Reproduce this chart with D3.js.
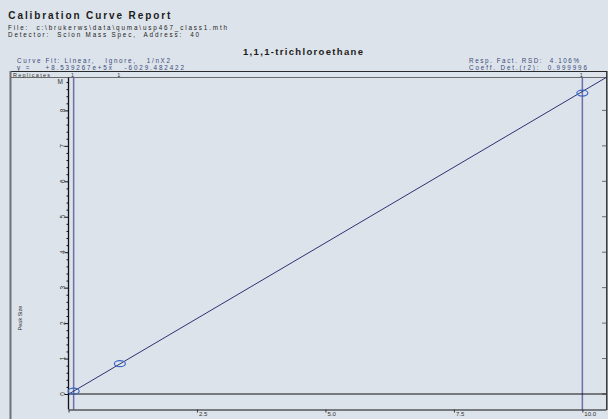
<!DOCTYPE html>
<html><head><meta charset="utf-8">
<script src="https://cdn.jsdelivr.net/npm/d3@7"></script>
<style>
html,body{margin:0;padding:0;background:#dbe2e9;}
svg{display:block;font-family:"Liberation Sans",Arial,sans-serif;}
svg text{white-space:pre;}
</style></head>
<body>
<script>
// ---- data ----
const concentrations = [0.1, 1, 10];
const peakSizes = [79000, 855000, 8490000];
const replicates = [1, 1, 1];
const rangeLimits = [0.1, 10];
const fitSlope = 853926.7;
const fitIntercept = -6029.482422;
const xTickValues = [0, 2.5, 5, 7.5, 10];
const xTickLabels = ["", "2.5", "5.0", "7.5", "10.0"];
const yMajorValues = [0, 1e6, 2e6, 3e6, 4e6, 5e6, 6e6, 7e6, 8e6];
const yTickLabels = ["0", "1", "2", "3", "4", "5", "6", "7", "8"];

const W = 608, H = 419;
const svg = d3.select("body").append("svg").attr("width", W).attr("height", H);
svg.append("rect").attr("width", W).attr("height", H).attr("fill", "#dce3ea");

const x = d3.scaleLinear().domain([0, 10.46]).range([68.5, 606]);
const y = d3.scaleLinear().domain([0, 8.9e6]).range([394, 78.5]);

// ---- header texts ----
function txt(s, px, py, size, opts = {}) {
  const t = svg.append("text").attr("x", px).attr("y", py).attr("font-size", size)
    .attr("fill", opts.fill || "#1c1c1c").attr("font-weight", opts.bold ? "bold" : "normal").text(s);
  if (opts.len) t.attr("textLength", opts.len).attr("lengthAdjust", "spacing");
  if (opts.anchor) t.attr("text-anchor", opts.anchor);
  return t;
}
txt("Calibration Curve Report", 8.3, 18.5, 10, {bold: true, len: 162});
txt("File:  c:\\brukerws\\data\\quma\\usp467_class1.mth", 8, 29.6, 6.3, {len: 219});
txt("Detector:  Scion Mass Spec,  Address:  40", 8, 36.8, 6.3, {len: 191});
txt("1,1,1-trichloroethane", 243, 55, 9.5, {bold: true, len: 120});
const info = "#3b4a7c";
txt("Curve Fit: Linear,   Ignore,   1/nX2", 17, 63, 6.3, {fill: info, len: 153});
txt("y =    +8.539267e+5x   -6029.482422", 17, 70.3, 6.3, {fill: info, len: 167});
txt("Resp. Fact. RSD:  4.106%", 469, 63, 6.3, {fill: info, len: 110});
txt("Coeff. Det.(r2):  0.999996", 469, 70.3, 6.3, {fill: info, len: 118});

// ---- frame ----
svg.append("line").attr("x1", 10).attr("x2", 607).attr("y1", 71.5).attr("y2", 71.5).attr("stroke", "#2a2a2a").attr("stroke-width", 1.2);
svg.append("line").attr("x1", 10).attr("x2", 607).attr("y1", 77.5).attr("y2", 77.5).attr("stroke", "#6a6a6a").attr("stroke-width", 1);
svg.append("line").attr("x1", 10.5).attr("x2", 10.5).attr("y1", 71).attr("y2", 419).attr("stroke", "#707070").attr("stroke-width", 2);
svg.append("line").attr("x1", 606.8).attr("x2", 606.8).attr("y1", 71).attr("y2", 410).attr("stroke", "#2a2a2a").attr("stroke-width", 1.4);
txt("Replicates", 13, 76.6, 5.5, {fill: "#333", len: 37});
svg.selectAll("text.rep").data(concentrations).enter().append("text").attr("class", "rep")
  .attr("x", d => x(d) - 1).attr("y", 76.6).attr("font-size", 5.5).attr("text-anchor", "middle")
  .attr("fill", "#333").text((d, i) => replicates[i]);

// ---- range limit lines ----
svg.selectAll("line.lim").data(rangeLimits).enter().append("line").attr("class", "lim")
  .attr("x1", d => x(d)).attr("x2", d => x(d)).attr("y1", 77.5).attr("y2", 409.5)
  .attr("stroke", "#6d6dae").attr("stroke-width", 1.5);

// ---- right-side ticks ----
svg.selectAll("line.rt").data(yMajorValues).enter().append("line").attr("class", "rt")
  .attr("x1", 602).attr("x2", 606).attr("y1", d => y(d)).attr("y2", d => y(d))
  .attr("stroke", "#6a6a6a").attr("stroke-width", 1);

// ---- zero line ----
svg.append("line").attr("x1", x(0)).attr("x2", 606).attr("y1", y(0)).attr("y2", y(0))
  .attr("stroke", "#111").attr("stroke-width", 1);

// ---- y axis ----
const yMinor = d3.range(0, 45).map(i => i * 2e5);
const yAxis = svg.append("g").attr("transform", "translate(68.5,0)")
  .call(d3.axisLeft(y).tickValues(yMinor).tickSizeOuter(0).tickFormat(""));
yAxis.select(".domain").attr("d", "M0,77.5V409.5").attr("stroke", "#111").attr("stroke-width", 1.3);
yAxis.selectAll(".tick line").attr("stroke", "#111")
  .attr("x2", d => (Math.round(d / 2e5) % 5 === 0 ? -4 : -2));
yAxis.selectAll(".tick text").remove();
svg.selectAll("text.ylab").data(yMajorValues).enter().append("text").attr("class", "ylab")
  .attr("transform", d => `translate(65,${y(d)}) rotate(-90)`)
  .attr("text-anchor", "middle").attr("font-size", 6.5).attr("fill", "#333")
  .text((d, i) => yTickLabels[i]);
txt("M", 57.5, 84, 6.5, {fill: "#333"});
svg.append("text").attr("transform", "translate(22,318) rotate(-90)").attr("text-anchor", "middle")
  .attr("font-size", 5.5).attr("fill", "#333").text("Peak Size");

// ---- x axis ----
const xAxis = svg.append("g").attr("transform", "translate(0,409.5)")
  .call(d3.axisBottom(x).tickValues(xTickValues).tickSize(3).tickSizeOuter(0)
    .tickFormat((d, i) => xTickLabels[i]));
xAxis.select(".domain").attr("stroke", "#111").attr("stroke-width", 1.2);
xAxis.selectAll(".tick line").attr("stroke", "#333");
xAxis.selectAll(".tick text").attr("text-anchor", "start").attr("x", 1.5).attr("y", 2)
  .attr("dy", "0.71em").attr("font-size", 6).attr("fill", "#333")
  .attr("font-family", "'Liberation Sans',Arial,sans-serif");

// ---- fit line ----
const fitXs = [0, 10.46];
svg.append("path")
  .datum(fitXs)
  .attr("d", d3.line().x(d => x(d)).y(d => y(fitSlope * d + fitIntercept)))
  .attr("fill", "none").attr("stroke", "#2f3272").attr("stroke-width", 1);

// ---- points ----
svg.selectAll("ellipse.pt").data(concentrations).enter().append("ellipse").attr("class", "pt")
  .attr("cx", d => x(d)).attr("cy", (d, i) => y(peakSizes[i]))
  .attr("rx", 5.5).attr("ry", 3).attr("fill", "none").attr("stroke", "#3a68c4").attr("stroke-width", 1.2);
</script>
</body></html>
